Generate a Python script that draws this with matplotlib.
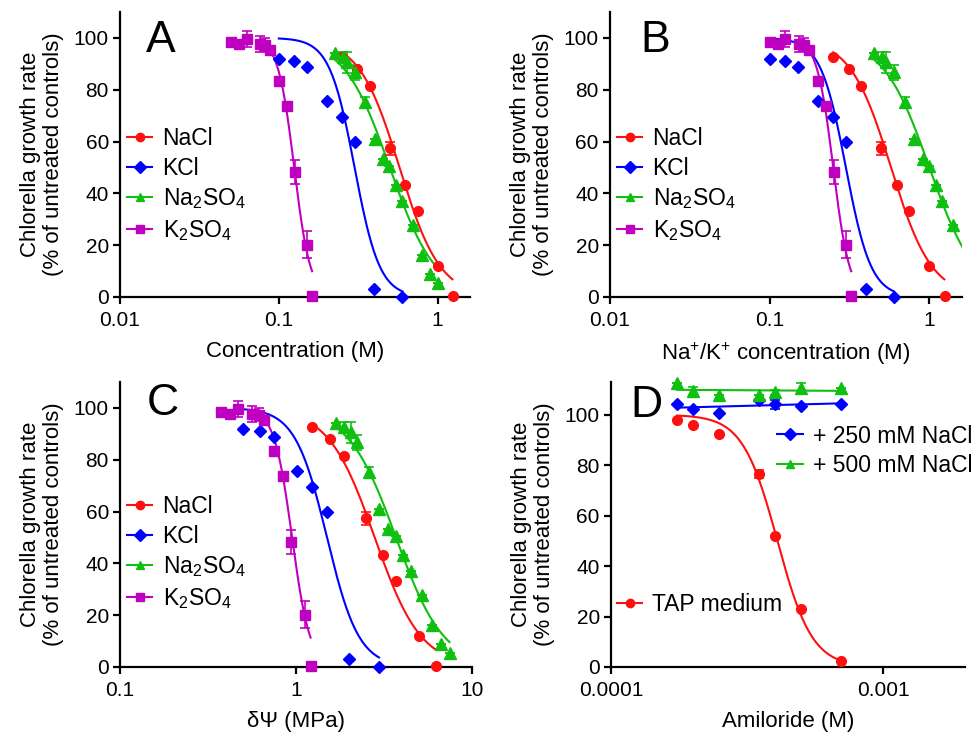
import numpy as np
import matplotlib
matplotlib.use("Agg")
from matplotlib import pyplot as plt
from matplotlib.ticker import FixedLocator, FixedFormatter, NullLocator

plt.rcParams['font.family'] = ['Liberation Sans', 'DejaVu Sans']
plt.rcParams['mathtext.fontset'] = 'custom'
plt.rcParams['mathtext.rm'] = 'Liberation Sans'
plt.rcParams['mathtext.it'] = 'Liberation Sans:italic'

# ---- data ----
salts = ["NaCl", "KCl", "Na2SO4", "K2SO4"]
labels = {"NaCl": "NaCl", "KCl": "KCl",
          "Na2SO4": "Na$_\\mathregular{2}$SO$_\\mathregular{4}$",
          "K2SO4": "K$_\\mathregular{2}$SO$_\\mathregular{4}$"}
colors = {"NaCl": "#ff1010", "KCl": "#0000ff", "Na2SO4": "#10c010", "K2SO4": "#c000c0"}
markers = {"NaCl": "o", "KCl": "D", "Na2SO4": "^", "K2SO4": "s"}
msizes = {"NaCl": 7, "KCl": 6, "Na2SO4": 8, "K2SO4": 6.5}

# salt concentration (M), panel A
conc = {
    "NaCl": [0.25, 0.3125, 0.375, 0.5, 0.625, 0.75, 1.0, 1.25],
    "KCl": [0.1, 0.125, 0.15, 0.2, 0.25, 0.3, 0.4, 0.6],
    "Na2SO4": [0.225, 0.254, 0.269, 0.302, 0.351, 0.402, 0.453, 0.494,
               0.55, 0.6, 0.7, 0.8, 0.9, 1.0],
    "K2SO4": [0.05, 0.0562, 0.0627, 0.076, 0.0817, 0.0878, 0.1, 0.1134,
              0.126, 0.151, 0.162],
}
# cations per formula unit (panel B x = conc * ions)
ions = {"NaCl": 1, "KCl": 1, "Na2SO4": 2, "K2SO4": 2}

# osmotic potential (MPa), panel C
psi = {
    "NaCl": [1.24, 1.56, 1.87, 2.49, 3.12, 3.72, 5.01, 6.26],
    "KCl": [0.497, 0.625, 0.748, 1.01, 1.24, 1.50, 1.99, 2.96],
    "Na2SO4": [1.69, 1.87, 2.06, 2.23, 2.61, 2.96, 3.35, 3.72, 4.08,
               4.49, 5.19, 5.92, 6.65, 7.49],
    "K2SO4": [0.375, 0.42, 0.466, 0.562, 0.614, 0.656, 0.748, 0.842,
              0.94, 1.13, 1.22],
}

# growth rate (% of untreated controls)
growth = {
    "NaCl": [92.5, 87.9, 81.3, 57.4, 43.1, 33.3, 12.1, 0.2],
    "KCl": [91.7, 91.2, 88.9, 75.7, 69.5, 59.8, 3.2, 0.0],
    "Na2SO4": [94.1, 92.5, 90.6, 86.7, 75.1, 60.9, 53.4, 50.5, 43.1,
               37.2, 27.8, 16.2, 8.8, 5.3],
    "K2SO4": [98.6, 97.7, 99.6, 97.7, 97.4, 95.3, 83.5, 73.8, 48.2, 20.2, 0.5],
}
err = {
    "NaCl": [0, 0, 0, 2.5, 0, 0, 0, 0],
    "KCl": [0, 0, 0, 0, 0, 0, 0, 0],
    "Na2SO4": [0, 2, 4, 3, 2, 0, 0, 0, 0, 0, 0, 0, 0, 0],
    "K2SO4": [0, 0, 3.2, 3, 2.5, 0, 0, 0, 4.6, 5.2, 0],
}

# fitted dose-response curves: (EC50, Hill slope, x start, x end)
fit_conc = {
    "NaCl": (0.575, 3.4, 0.25, 1.24),
    "KCl": (0.30, 5.5, 0.1, 0.6),
    "Na2SO4": (0.50, 3.0, 0.225, 1.0),
    "K2SO4": (0.125, 8.5, 0.085, 0.162),
}
fit_psi = {
    "NaCl": (2.8, 3.3, 1.24, 6.2),
    "KCl": (1.5, 4.8, 0.48, 2.96),
    "Na2SO4": (3.7, 3.2, 1.69, 7.45),
    "K2SO4": (0.95, 8.5, 0.6, 1.21),
}

# panel D, amiloride (M)
amiloride = [1.75e-4, 2.0e-4, 2.5e-4, 3.5e-4, 4.0e-4, 5.0e-4, 7.0e-4]
tap = [98.0, 95.8, 92.5, 76.5, 51.8, 23.0, 2.5]
tap_err = [0, 0, 0, 1.5, 0, 0, 0]
nacl250 = [104.2, 102.4, 100.7, 105.7, 104.2, 103.6, 104.4]
nacl250_err = [0, 0, 0, 0, 1.8, 0, 0]
nacl500 = [112.6, 109.5, 107.9, 107.7, 109.0, 110.6, 110.6]
nacl500_err = [0, 1.5, 0, 0, 1.0, 2.0, 0]
tap_fit = (4.09e-4, 6.8)

xticks_ab = [0.01, 0.1, 1]
xticklabels_ab = ["0.01", "0.1", "1"]
xticks_c = [0.1, 1, 10]
xticklabels_c = ["0.1", "1", "10"]
xticks_d = [0.0001, 0.001]
xticklabels_d = ["0.0001", "0.001"]
yticks = [0, 20, 40, 60, 80, 100]

XMAX_AB = 1.6


def hill(x, ec50, h):
    return 100.0 / (1.0 + (x / ec50) ** h)


def style(ax, xlim, ylim, xt, xtl, xlabel):
    ax.set_xscale("log")
    ax.set_xlim(*xlim)
    ax.set_ylim(*ylim)
    ax.xaxis.set_major_locator(FixedLocator(xt))
    ax.xaxis.set_major_formatter(FixedFormatter(xtl))
    ax.xaxis.set_minor_locator(NullLocator())
    ax.set_yticks(yticks)
    for s in ["top", "right"]:
        ax.spines[s].set_visible(False)
    for s in ["left", "bottom"]:
        ax.spines[s].set_linewidth(1.6)
    ax.tick_params(width=1.6, length=5, labelsize=15)
    ax.tick_params(axis="x", pad=5)
    ax.tick_params(axis="y", pad=3)
    ax.set_xlabel(xlabel, fontsize=16, labelpad=8)
    ax.set_ylabel("Chlorella growth rate\n(% of untreated controls)", fontsize=16,
                  labelpad=7, linespacing=1.1)


def plot_series(ax, x, y, e, s):
    ax.errorbar(x, y, yerr=e, fmt=markers[s], color=colors[s],
                ms=msizes[s], mec=colors[s], ecolor=colors[s],
                elinewidth=1.2, capsize=3.5, capthick=1.2, clip_on=False,
                zorder=4)


def legend_handles(ax, cols, mks):
    hs = []
    for c, m in zip(cols, mks):
        h, = ax.plot([], [], color=c, marker=m, ms=6, lw=1.5)
        hs.append(h)
    return hs


fig = plt.figure(figsize=(9.78, 7.34), dpi=100)
axA = fig.add_axes([0.1227, 0.5954, 0.3579, 0.3883])
axB = fig.add_axes([0.6237, 0.5954, 0.3599, 0.3883])
axC = fig.add_axes([0.1227, 0.0913, 0.3599, 0.3883])
axD = fig.add_axes([0.6247, 0.0913, 0.3620, 0.3883])

# A and B
for ax, scale in [(axA, False), (axB, True)]:
    for s in salts:
        f = ions[s] if scale else 1
        x = np.array(conc[s]) * f
        keep = x < XMAX_AB
        ec50, h, x0, x1 = fit_conc[s]
        xx = np.geomspace(x0 * f, x1 * f, 200)
        ax.plot(xx, hill(xx, ec50 * f, h), color=colors[s], lw=1.5, zorder=3)
        plot_series(ax, x[keep], np.array(growth[s])[keep], np.array(err[s])[keep], s)

# C
for s in salts:
    ec50, h, x0, x1 = fit_psi[s]
    xx = np.geomspace(x0, x1, 200)
    axC.plot(xx, hill(xx, ec50, h), color=colors[s], lw=1.5, zorder=3)
    plot_series(axC, psi[s], growth[s], err[s], s)

style(axA, (0.01, XMAX_AB), (0, 110), xticks_ab, xticklabels_ab, "Concentration (M)")
style(axB, (0.01, XMAX_AB), (0, 110), xticks_ab, xticklabels_ab,
      "Na$^\\mathregular{+}$/K$^\\mathregular{+}$ concentration (M)")
style(axC, (0.1, 10), (0, 110), xticks_c, xticklabels_c, "δΨ (MPa)")

for ax, cy in [(axA, 0.393), (axB, 0.393), (axC, 0.40)]:
    hs = legend_handles(ax, [colors[s] for s in salts], [markers[s] for s in salts])
    ax.legend(hs, [labels[s] for s in salts], loc="center left",
              bbox_to_anchor=(0.02, cy), frameon=False, fontsize=16.5,
              handlelength=1.1, handletextpad=0.45, labelspacing=0.3,
              borderaxespad=0, borderpad=0)

# D
lx = np.log10(amiloride)
xx = np.geomspace(amiloride[0], amiloride[-1], 200)
axD.plot(xx, hill(xx, *tap_fit), color=colors["NaCl"], lw=1.5, zorder=3)
for y, e, c, m in [(nacl250, nacl250_err, colors["KCl"], "D"),
                   (nacl500, nacl500_err, colors["Na2SO4"], "^")]:
    k, b = np.polyfit(lx, y, 1)
    axD.plot(xx, k * np.log10(xx) + b, color=c, lw=1.5, zorder=3)
    axD.errorbar(amiloride, y, yerr=e, fmt=m, color=c, ms=6 if m == "D" else 8,
                 elinewidth=1.2, capsize=3.5, capthick=1.2, clip_on=False, zorder=4)
axD.errorbar(amiloride, tap, yerr=tap_err, fmt="o", color=colors["NaCl"], ms=7,
             elinewidth=1.2, capsize=3.5, capthick=1.2, clip_on=False, zorder=4)
style(axD, (0.0001, 0.002), (0, 113), xticks_d, xticklabels_d, "Amiloride (M)")

hs = legend_handles(axD, [colors["KCl"], colors["Na2SO4"]], ["D", "^"])
leg1 = axD.legend(hs, ["+ 250 mM NaCl", "+ 500 mM NaCl"], loc="center left",
                  bbox_to_anchor=(0.47, 0.758), frameon=False, fontsize=16.5,
                  handlelength=1.1, handletextpad=0.45, labelspacing=0.3,
                  borderaxespad=0, borderpad=0)
axD.add_artist(leg1)
hs = legend_handles(axD, [colors["NaCl"]], ["o"])
axD.legend(hs, ["TAP medium"], loc="center left", bbox_to_anchor=(0.017, 0.218),
           frameon=False, fontsize=16.5, handlelength=1.1, handletextpad=0.45,
           borderaxespad=0, borderpad=0)

for ax, letter, x, y in [(axA, "A", 0.075, 0.86), (axB, "B", 0.085, 0.86),
                         (axC, "C", 0.075, 0.884), (axD, "D", 0.055, 0.877)]:
    ax.text(x, y, letter, transform=ax.transAxes, fontsize=32, va="baseline", ha="left")

fig.savefig("out.png", dpi=100)
